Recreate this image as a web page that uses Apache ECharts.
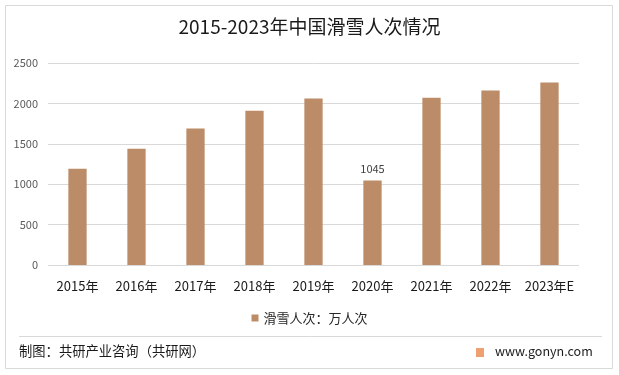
<!DOCTYPE html>
<html><head><meta charset="utf-8">
<script src="https://cdn.jsdelivr.net/npm/echarts@6/dist/echarts.min.js"></script>
<style>html,body{margin:0;padding:0;background:#fff}#c{width:619px;height:375px}</style>
</head><body><div id="c"></div>
<script>
const categories = ['2015年','2016年','2017年','2018年','2019年','2020年','2021年','2022年','2023年E'];
const skiVisits = [1190, 1440, 1690, 1910, 2060, 1045, 2070, 2160, 2260];
const labeledIndex = 5;
const seriesName = '滑雪人次：万人次';
const titleText = '2015-2023年中国滑雪人次情况';
const sourceText = '制图：共研产业咨询（共研网）';
const siteText = 'www.gonyn.com';
const FONT = '"Noto Sans CJK SC", "Noto Sans", sans-serif';

const chart = echarts.init(document.getElementById('c'), null, {renderer: 'canvas'});
chart.setOption({
  backgroundColor: '#fff',
  animation: false,
  textStyle: {fontFamily: FONT},
  title: {
    text: titleText, left: 'center', top: 12,
    textStyle: {fontSize: 19, fontWeight: 'normal', color: '#1a1a1a', fontFamily: FONT}
  },
  grid: {left: 48, right: 40, top: 63, bottom: 110, containLabel: false},
  legend: {
    data: [seriesName], bottom: 45.5, left: 'center', icon: 'rect',
    itemWidth: 7, itemHeight: 7, itemGap: 4,
    textStyle: {fontSize: 13, color: '#262626', fontFamily: FONT}
  },
  xAxis: {
    type: 'category', data: categories,
    axisLine: {show: false}, axisTick: {show: false},
    axisLabel: {fontSize: 13, color: '#1a1a1a', margin: 15, interval: 0, fontFamily: FONT}
  },
  yAxis: {
    type: 'value', min: 0, max: 2500, interval: 500,
    axisLine: {show: false}, axisTick: {show: false},
    axisLabel: {fontSize: 11, color: '#595959', margin: 10, fontFamily: FONT, formatter: v => String(v)},
    splitLine: {lineStyle: {color: '#d9d9d9', width: 1}}
  },
  series: [{
    name: seriesName, type: 'bar', barWidth: '31%',
    itemStyle: {color: '#bc8c69'},
    data: skiVisits.map((v, i) => i === labeledIndex ?
      {value: v, label: {show: true, position: 'top', distance: 6, fontSize: 11, color: '#404040', fontFamily: FONT}} : v)
  }],
  graphic: [
    {type: 'rect', shape: {x: 5.5, y: 5.5, width: 607, height: 363}, style: {fill: 'none', stroke: '#d9d9d9', lineWidth: 1}, silent: true, z: -1},
    {type: 'line', shape: {x1: 19, y1: 336.5, x2: 602, y2: 336.5}, style: {stroke: '#d9d9d9', lineWidth: 1}},
    {type: 'text', left: 19, top: 344, style: {text: sourceText, fontSize: 13.3, fill: '#1a1a1a', fontFamily: FONT}},
    {type: 'rect', shape: {x: 476, y: 348, width: 8, height: 9}, style: {fill: '#f0a070'}},
    {type: 'text', left: 495, top: 345, style: {text: siteText, fontSize: 12.5, fill: '#1a1a1a', fontFamily: FONT}}
  ]
});
</script></body></html>
